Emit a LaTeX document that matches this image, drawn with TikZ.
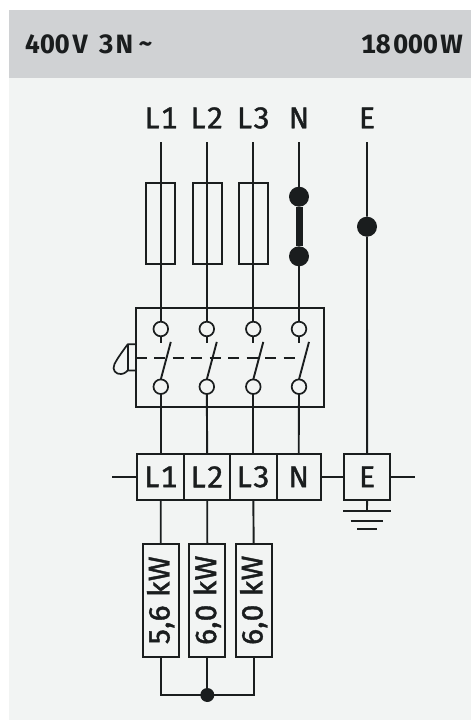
\documentclass[tikz,border=0pt]{standalone}
\usepackage{fontspec}
\setmainfont{Fira Sans}
\newfontfamily\labelfont[FakeBold=1.3,Numbers=Tabular,LetterSpace=4]{Fira Sans}
\newfontfamily\loadfont[FakeBold=1.3,LetterSpace=1.5]{Fira Sans}
\newfontfamily\headfont[Numbers=Tabular]{Fira Sans Bold}
\definecolor{ink}{HTML}{1A1D1E}
\definecolor{panel}{HTML}{F2F4F3}
\definecolor{band}{HTML}{D0D2D4}
\tikzset{
  wire/.style={draw=ink,line width=1.9pt},
  thin box/.style={draw=ink,line width=1.9pt,fill=panel,inner sep=0pt,outer sep=0pt,rectangle},
  fusebox/.style={draw=ink,line width=1.7pt,inner sep=0pt,outer sep=0pt,rectangle,minimum width=29pt,minimum height=81pt},
  term/.style={thin box,minimum height=45.7pt,text=ink,font=\labelfont\fontsize{30}{30}\selectfont},
  load/.style={thin box,minimum width=36pt,minimum height=113.3pt,text=ink},
  loadtext/.style={text=ink,rotate=90,font=\loadfont\fontsize{30}{30}\selectfont,inner sep=0pt},
  toplabel/.style={text=ink,font=\labelfont\fontsize{30}{30}\selectfont,inner sep=0pt,anchor=base},
  head/.style={text=ink,font=\headfont\fontsize{26.5}{27}\selectfont,inner sep=0pt,anchor=base},
  contact/.style={circle,draw=ink,line width=1.7pt,fill=panel,minimum size=14.6pt,inner sep=0pt,outer sep=0pt},
  dotnode/.style={circle,fill=ink,minimum size=20pt,inner sep=0pt,outer sep=0pt},
  smalldot/.style={circle,fill=ink,minimum size=14pt,inner sep=0pt,outer sep=0pt},
}
\begin{document}
\begin{tikzpicture}[x=1pt,y=-1pt]
\useasboundingbox (0,0) rectangle (471,720);
\fill[white] (0,0) rectangle (471,720);
\fill[panel] (9,78) rectangle (471,720);
\fill[band] (9,10) rectangle (471,78);
\node[head,anchor=base west] (hl) at (25,53.6) {400\hspace{3pt}V\hspace{11pt}3\hspace{2pt}N\hspace{5pt}\raisebox{1pt}{\textasciitilde}};
\node[head,anchor=base east] (hr) at (463,53.6) {18\hspace{2.5pt}000\hspace{2.5pt}W};
% top labels
\foreach \n/\t/\x in {tl1/L1/161,tl2/L2/207,tl3/L3/253.5,tln/N/299,tle/E/367}
  \node[toplabel] (\n) at (\x,128.3) {\t};
% fuses
\node[fusebox] (f1) at (160.5,223.7) {};
\node[fusebox] (f2) at (207.2,223.7) {};
\node[fusebox] (f3) at (253.5,223.7) {};
\node[dotnode] (dn1) at (299,196.7) {};
\node[dotnode] (dn2) at (299,256.3) {};
\node[dotnode] (de) at (367,226.7) {};
% switch
\node[thin box,fill=none,minimum width=188pt,minimum height=98.4pt] (sw) at (229.7,357.5) {};
\foreach \n/\x in {1/160.8,2/206.8,3/253.3,4/299}{
  \coordinate (wt\n) at (\x,142);
  \node[contact] (ca\n) at (\x,329) {};
  \node[contact] (cb\n) at (\x,386.7) {};
}
% terminals
\node[term,minimum width=47pt] (t1) at (160.8,476.8) {L1};
\node[term,minimum width=45.7pt] (t2) at (207.2,476.8) {L2};
\node[term,minimum width=46.7pt] (t3) at (253.3,476.8) {L3};
\node[term,minimum width=44pt] (tn) at (298.7,476.8) {N};
\node[term,minimum width=45.7pt] (te) at (367.1,476.8) {E};
\coordinate (sl) at (112.3,476.8);
\coordinate (sr) at (414.7,476.8);
\draw[wire] (sl) -- (t1.west);
\draw[wire] (tn.east) -- (te.west);
\draw[wire] (te.east) -- (sr);
% wires top
\coordinate (we) at (367,142);
\foreach \n/\f in {1/f1,2/f2,3/f3}
  \draw[wire] (wt\n) -- (ca\n.north);
\draw[wire] (wt4) -- (dn1);
\draw[draw=ink,line width=7pt] (dn1) -- (dn2);
\draw[wire] (dn2) -- (ca4.north);
\draw[wire] (we) -- (de) -- (te.north);
% contacts to terminals
\draw[wire] (cb1.south) -- (t1.north);
\draw[wire] (cb2.south) -- (t2.north);
\draw[wire] (cb3.south) -- (t3.north);
\draw[wire] (cb4.south) -- (tn.north);
% stubs and blades
\foreach \n/\x in {1/160.8,2/206.8,3/253.3,4/299}{
  \draw[wire] (ca\n.south) -- ++(0,6.5);
  \draw[wire] (cb\n.north) -- ++(10,-37.5);
}
% linkage
\coordinate (lk) at (sw.west |- 0,358);
\draw[wire,dash pattern=on 11pt off 7.5pt] (lk) -- (297,358);
\draw[draw=ink,line width=1.7pt,line join=round] (sw.west |- 0,344.3) -- (127.7,344.3) .. controls (122,352) and (117,359) .. (114.5,364) .. controls (111.5,370) and (116,374.5) .. (121,374) .. controls (125,373.8) and (127,371) .. (127.7,370.5) -- (sw.west |- 0,370.5);
\draw[draw=ink,line width=1.7pt] (127.7,344.3) -- (127.7,370.5);
% ground
\coordinate (g1) at (367,510.7);
\draw[wire] (te.south) -- (g1);
\coordinate (g1a) at (343.3,510.7); \coordinate (g1b) at (390.7,510.7);
\coordinate (g2a) at (350.7,520.7); \coordinate (g2b) at (383,520.7);
\coordinate (g3a) at (357.3,529.3); \coordinate (g3b) at (376.7,529.3);
\draw[wire] (g1a) -- (g1b);
\draw[wire] (g2a) -- (g2b);
\draw[wire] (g3a) -- (g3b);
% loads
\node[load] (l1) at (160.7,600.3) {};
\node[load] (l2) at (207.3,600.3) {};
\node[load] (l3) at (253.7,600.3) {};
\node[loadtext] at (l1) {5,6 kW};
\node[loadtext] at (l2) {6,0 kW};
\node[loadtext] at (l3) {6,0 kW};
\draw[wire] (t1.south) -- (l1.north);
\draw[wire] (t2.south) -- (l2.north);
\draw[wire] (t3.south) -- (l3.north);
\node[smalldot] (j) at (207.3,695) {};
\draw[wire,line join=miter] (l1.south) |- (j.center) -| (l3.south);
\draw[wire] (l2.south) -- (j);
\end{tikzpicture}
\end{document}
